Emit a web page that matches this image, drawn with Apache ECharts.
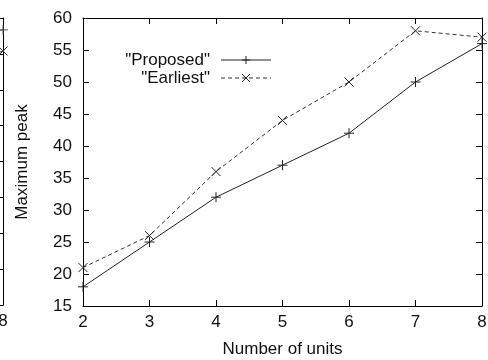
<!DOCTYPE html>
<html><head><meta charset="utf-8">
<script src="https://cdn.jsdelivr.net/npm/echarts@6/dist/echarts.min.js"></script>
<style>html,body{margin:0;padding:0;background:#fff}#c{width:488px;height:360px}</style>
</head><body><div id="c"></div>
<script>
const units = [2, 3, 4, 5, 6, 7, 8];
const proposed = [18, 25, 32, 37, 42, 50, 56];
const earliest = [21, 26, 36, 44, 50, 58, 57];
// partially visible neighbouring panel (only its right edge is in frame)
const leftUnits = [7, 8];
const leftProposed = [74, 76.7];
const leftEarliest = [66, 70.8];

const FONT = 'Liberation Sans';
const plus = 'path://M0,5L10,5M5,0L5,10';
const cross = 'path://M0,0L10,10M0,10L10,0';
const ink = '#000';
const txt = {fontFamily: FONT, fontSize: 17, color: '#111'};

function xAx(grid, pos, show) {
  return {type: 'value', gridIndex: grid, position: pos, min: 2, max: 8, interval: 1,
    axisLine: {show: true, onZero: false, lineStyle: {color: ink, width: 1}},
    axisTick: {show: true, inside: true, length: 6, lineStyle: {color: ink}},
    axisLabel: {show: show, margin: 8, ...txt},
    splitLine: {show: false}};
}
function yAx(grid, pos, show, min, max, itv) {
  return {type: 'value', gridIndex: grid, position: pos, min: min, max: max, interval: itv,
    axisLine: {show: true, onZero: false, lineStyle: {color: ink, width: 1}},
    axisTick: {show: true, inside: true, length: 6, lineStyle: {color: ink}},
    axisLabel: {show: show, margin: 11, ...txt},
    splitLine: {show: false}};
}
const xMain = xAx(0, 'bottom', true);
xMain.name = 'Number of units'; xMain.nameLocation = 'middle'; xMain.nameGap = 35; xMain.nameTextStyle = txt;
const yMain = yAx(0, 'left', true, 15, 60, 5);
yMain.name = 'Maximum peak'; yMain.nameLocation = 'middle'; yMain.nameGap = 52; yMain.nameTextStyle = txt;

const lineStyleA = {color: '#222', width: 1, type: 'solid'};
const lineStyleB = {color: '#333', width: 1, type: [4, 3]};
const chart = echarts.init(document.getElementById('c'), null, {renderer: 'canvas'});
chart.setOption({
  animation: false,
  grid: [
    {left: 83, right: 6, top: 18, bottom: 54, outerBoundsMode: 'none', containLabel: false},
    {left: -300, right: 485, top: 18, bottom: 55, outerBoundsMode: 'none', containLabel: false}
  ],
  legend: {
    show: true, orient: 'vertical', left: 93, top: 46, align: 'right',
    itemWidth: 50, itemHeight: 10, itemGap: 0,
    itemStyle: {borderWidth: 1},
    lineStyle: {width: 1},
    textStyle: {...txt, width: 112, lineHeight: 18, align: 'right', padding: [0, 6, 0, 0]},
    data: ['"Proposed"', '"Earliest"']
  },
  xAxis: [xMain, xAx(0, 'top', false), xAx(1, 'bottom', true), xAx(1, 'top', false)],
  yAxis: [yMain, yAx(0, 'right', false, 15, 60, 5), yAx(1, 'left', false, 0, 80, 10), yAx(1, 'right', false, 0, 80, 10)],
  series: [
    {name: '"Proposed"', type: 'line', xAxisIndex: 0, yAxisIndex: 0,
     data: units.map((u, i) => [u, proposed[i]]), symbol: plus, symbolSize: 10,
     itemStyle: {color: 'none', borderColor: '#222', borderWidth: 1}, lineStyle: lineStyleA},
    {name: '"Earliest"', type: 'line', xAxisIndex: 0, yAxisIndex: 0,
     data: units.map((u, i) => [u, earliest[i]]), symbol: cross, symbolSize: 9,
     itemStyle: {color: 'none', borderColor: '#222', borderWidth: 1}, lineStyle: lineStyleB},
    {name: 'lp', type: 'line', xAxisIndex: 2, yAxisIndex: 2, clip: false,
     data: leftUnits.map((u, i) => [u, leftProposed[i]]), symbol: plus, symbolSize: 10,
     itemStyle: {color: 'none', borderColor: '#555', borderWidth: 1}, lineStyle: {color: '#555', width: 1}},
    {name: 'le', type: 'line', xAxisIndex: 2, yAxisIndex: 2, clip: false,
     data: leftUnits.map((u, i) => [u, leftEarliest[i]]), symbol: cross, symbolSize: 9,
     itemStyle: {color: 'none', borderColor: '#333', borderWidth: 1}, lineStyle: lineStyleB}
  ]
});
</script></body></html>
